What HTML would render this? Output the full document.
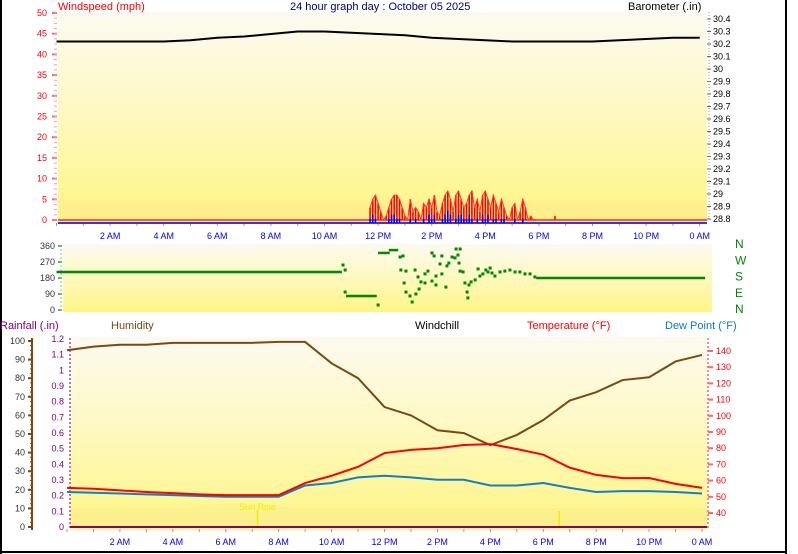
<!DOCTYPE html>
<html><head><meta charset="utf-8"><style>
html,body{margin:0;padding:0;background:#fff;}
svg{display:block;font-family:"Liberation Sans",sans-serif;}
</style></head><body>
<svg id="c" width="798" height="554" viewBox="0 0 798 554">
<defs>
<linearGradient id="bg" x1="0" y1="0" x2="0" y2="1">
<stop offset="0" stop-color="#fcfaf0"/><stop offset="0.45" stop-color="#fef9c4"/><stop offset="1" stop-color="#fff584"/>
</linearGradient>
</defs>
<rect x="0" y="0" width="2" height="554" fill="#000"/>
<rect x="785" y="0" width="2" height="554" fill="#000"/>
<rect x="0" y="551" width="787" height="2" fill="#000"/>
<rect x="58" y="12" width="649" height="211" fill="url(#bg)"/>
<rect x="58" y="200" width="649" height="22" fill="#fbe98c" opacity="0.5"/>
<rect x="63" y="244" width="649" height="68" fill="url(#bg)"/>
<rect x="70" y="337" width="637" height="193" fill="url(#bg)"/>
<rect x="70" y="508" width="637" height="20" fill="#fbe98c" opacity="0.5"/>
<text x="58" y="10" font-size="11" fill="#f00">Windspeed (mph)</text>
<text x="290" y="10" font-size="11" fill="#000080">24 hour graph day : October 05 2025</text>
<text x="628" y="10" font-size="11" fill="#000">Barometer (.in)</text>
<text x="0" y="329" font-size="11" fill="#800080">Rainfall (.in)</text>
<text x="111" y="329" font-size="11" fill="#7a4a10">Humidity</text>
<text x="415" y="329" font-size="11" fill="#000">Windchill</text>
<text x="527" y="329" font-size="11" fill="#f00">Temperature (°F)</text>
<text x="665" y="329" font-size="11" fill="#0a7ac8">Dew Point (°F)</text>
<g id="g" font-size="9"></g>
</svg>
<script>
// ---- data ----
const baroHours=[0,1,2,3,4,5,6,7,8,9,10,11,12,13,14,15,16,17,18,19,20,21,22,23,24];
const baroValues=[30.22,30.22,30.22,30.22,30.22,30.23,30.25,30.26,30.28,30.30,30.30,30.29,30.28,30.27,30.25,30.24,30.23,30.22,30.22,30.22,30.22,30.23,30.24,30.25,30.25];
const windStart=11.7, windStep=0.1;
const gustValues=[3,5,6,4,2,0,1,3,5,6,6,5,3,1,0,5,2,3,2,0,4,3,5,3,6,2,1,4,6,7,5,2,6,7,5,3,4,6,7,3,5,2,6,7,5,3,6,4,2,5,3,1,0,3,4,0,2,5,3,0,1,0,0];
const avgValues=[1,2,1,0,0,0,0,1,2,2,1,1,0,0,0,1,0,1,0,0,1,0,2,1,2,0,0,1,2,3,2,0,1,2,2,1,1,2,1,0,1,0,2,1,2,0,1,1,0,1,1,0,0,0,1,0,0,1,0,0,0,0,0];
const lateGustHour=18.6, lateGustValue=1;
const dirSegStart=[0,10.8,12.0,12.4,17.9];
const dirSegEnd=[10.65,11.95,12.43,12.75,24.2];
const dirSegValue=[214,79,321,337,180];
const dirPtHours=[10.69,10.77,10.77,12.0,12.93,12.82,12.85,13.04,12.97,13.04,13.19,13.27,13.41,13.53,13.38,13.49,13.60,13.75,13.75,13.86,14.01,14.01,14.09,14.16,14.16,14.31,14.38,14.38,14.53,14.57,14.64,14.76,14.87,14.91,14.98,15.06,15.02,15.06,15.17,15.24,15.35,15.32,15.39,15.47,15.62,15.73,15.80,15.91,16.02,16.10,16.18,16.25,16.36,16.55,16.73,16.92,17.11,17.29,17.48,17.67,17.85];
const dirPtValues=[253,225,101,28,304,298,225,219,152,101,79,45,90,118,225,186,158,203,152,219,163,321,304,191,141,259,203,304,129,248,264,298,293,343,309,343,264,219,214,152,68,101,141,158,169,231,191,203,225,214,236,208,191,214,219,225,214,214,203,203,186];
const hourTicks=[0,1,2,3,4,5,6,7,8,9,10,11,12,13,14,15,16,17,18,19,20,21,22,23,24];
const tempValues=[55.5,55,54,53,52.3,51.5,51,51,51,58.5,63,68.5,77,79,80,82,82.5,79.5,76,68,63.5,61.5,61.6,58,55.5];
const dewValues=[53,52.5,52,51.5,51,50.5,50,50,50,57,58.5,62,63,62,60.5,60.5,57,57,58.5,55.5,53,53.5,53.5,53,52];
const humidityValues=[95,97,98,98,99,99,99,99,99.5,99.5,88,80,64.5,60,52,50.5,44,49.5,57.5,68,72.5,79,80.5,89,92.5];
const xTickLabels=["2 AM","4 AM","6 AM","8 AM","10 AM","12 PM","2 PM","4 PM","6 PM","8 PM","10 PM","0 AM"];
const xTickHours=[2,4,6,8,10,12,14,16,18,20,22,24];
const windTicks=[0,5,10,15,20,25,30,35,40,45,50];
const baroTicks=[28.8,28.9,29,29.1,29.2,29.3,29.4,29.5,29.6,29.7,29.8,29.9,30,30.1,30.2,30.3,30.4];
const dirTicks=[0,90,180,270,360];
const humTicks=[0,10,20,30,40,50,60,70,80,90,100];
const rainTicks=[0,0.1,0.2,0.3,0.4,0.5,0.6,0.7,0.8,0.9,1,1.1,1.2];
const tempTicks=[40,50,60,70,80,90,100,110,120,130,140];
const compassLabels=["N","W","S","E","N"];
const sunRiseHour=7.2, sunSetHour=18.6;

// ---- axes ----
const xT=h=>56.5+26.8*h, yW=m=>220-4.14*m, yB=p=>219-(p-28.8)*125;
const yD=d=>310-d/5.625;
const xB=h=>67+26.46*h, yH=v=>527-1.86*v, yR=r=>527-156.7*r, yT=t=>513-(t-40)*1.62;

const NS="http://www.w3.org/2000/svg", g=document.getElementById('g');
function mk(tag,attrs,name,text){const e=document.createElementNS(NS,tag);for(const k in attrs)e.setAttribute(k,attrs[k]);


if(text!==undefined)e.textContent=text;g.appendChild(e);return e;}
const fmt=v=>String(+v.toFixed(1));

// top axes
windTicks.forEach(v=>{mk('text',{x:47,y:yW(v)+3,'text-anchor':'end',fill:'#f00'},'windspeed-tick-label',String(v));
mk('line',{x1:52,x2:57,y1:yW(v),y2:yW(v),stroke:'#f66','stroke-width':2},'windspeed-tick');});
for(let v=0;v<=50;v+=1.25)mk('line',{x1:54,x2:57,y1:yW(v),y2:yW(v),stroke:'#f99','stroke-width':1},'windspeed-minor-tick');
baroTicks.forEach(v=>{mk('text',{x:713,y:yB(v)+3,fill:'#000'},'barometer-tick-label',fmt(v));
mk('line',{x1:707,x2:711,y1:yB(v),y2:yB(v),stroke:'#666'},'barometer-tick');});
mk('line',{x1:709,x2:709,y1:12,y2:222,stroke:'#999','stroke-dasharray':'1,2'},'barometer-axis');
xTickHours.forEach((h,i)=>{mk('text',{x:xT(h),y:239,'text-anchor':'middle',fill:'#00f'},'top-x-tick-label',xTickLabels[i]);
mk('text',{x:xB(h),y:545,'text-anchor':'middle',fill:'#00f'},'bottom-x-tick-label',xTickLabels[i]);});
hourTicks.forEach(h=>{mk('line',{x1:xT(h),x2:xT(h),y1:223,y2:226,stroke:'#999'},'top-x-tick');
mk('line',{x1:xB(h),x2:xB(h),y1:529,y2:532,stroke:'#999'},'bottom-x-tick');});

// barometer line
mk('polyline',{points:baroHours.map((h,i)=>xT(h)+','+yB(baroValues[i])).join(' '),fill:'none',stroke:'#000','stroke-width':2},'barometer-line');
// wind baselines
mk('line',{x1:58,x2:707,y1:yW(0),y2:yW(0),stroke:'#f55','stroke-width':2},'gust-baseline');
mk('line',{x1:58,x2:707,y1:223,y2:223,stroke:'#33f','stroke-width':2},'avg-baseline');
// gusts as spikes
gustValues.forEach((v,i)=>{ if(v>0) mk('line',{x1:xT(windStart+i*windStep),x2:xT(windStart+i*windStep),y1:yW(0),y2:yW(v),stroke:'#f00','stroke-width':1.6},'wind-gust-bar');});
let gp=[];gustValues.forEach((v,i)=>gp.push(xT(windStart+i*windStep)+','+yW(v)));
mk('polyline',{points:gp.join(' '),fill:'none',stroke:'#f33','stroke-width':1},'wind-gust-series');
mk('line',{x1:xT(lateGustHour),x2:xT(lateGustHour),y1:yW(0),y2:yW(lateGustValue),stroke:'#f00','stroke-width':1.5},'late-gust');
avgValues.forEach((v,i)=>{ if(v>0) mk('line',{x1:xT(windStart+i*windStep),x2:xT(windStart+i*windStep),y1:223,y2:223-4.14*v,stroke:'#00f','stroke-width':1.6},'wind-average-bar');});

// wind direction
dirTicks.forEach(v=>{mk('text',{x:55,y:yD(v)+3,'text-anchor':'end',fill:'#333'},'direction-tick-label',String(v));
mk('line',{x1:58,x2:62,y1:yD(v),y2:yD(v),stroke:'#6a6','stroke-width':2},'direction-tick');});
for(let v=0;v<=360;v+=22.5)mk('line',{x1:60,x2:62,y1:yD(v),y2:yD(v),stroke:'#8c8'},'direction-minor-tick');
compassLabels.forEach((c,i)=>mk('text',{x:735,y:248+i*16.3,fill:'#080','font-size':12},'compass-label',c));
dirSegValue.forEach((v,i)=>mk('line',{x1:xT(dirSegStart[i]),x2:xT(dirSegEnd[i]),y1:yD(v),y2:yD(v),stroke:'#080','stroke-width':2.5},'direction-segment'));
dirPtHours.forEach((h,i)=>mk('rect',{x:xT(h)-1.5,y:yD(dirPtValues[i])-1.5,width:3,height:3,fill:'#080'},'direction-point'));

// bottom axes
mk('line',{x1:32,x2:32,y1:338,y2:530,stroke:'#7a4a10','stroke-width':2},'humidity-axis');
humTicks.forEach(v=>{mk('text',{x:25,y:yH(v)+3,'text-anchor':'end',fill:'#333'},'humidity-tick-label',String(v));
mk('line',{x1:28,x2:32,y1:yH(v),y2:yH(v),stroke:'#7a4a10','stroke-width':2},'humidity-tick');});
for(let v=0;v<=100;v+=2.5)mk('line',{x1:30,x2:33,y1:yH(v),y2:yH(v),stroke:'#7a4a10'},'humidity-minor-tick');
mk('line',{x1:70,x2:70,y1:338,y2:530,stroke:'#b7b','stroke-dasharray':'2,2','stroke-width':2},'rainfall-axis');
rainTicks.forEach(v=>mk('text',{x:64,y:yR(v)+3,'text-anchor':'end',fill:'#800080'},'rainfall-tick-label',fmt(v)));
mk('line',{x1:708,x2:708,y1:338,y2:530,stroke:'#f88','stroke-dasharray':'2,2','stroke-width':2},'temperature-axis');
tempTicks.forEach(v=>{mk('text',{x:716,y:yT(v)+3,fill:'#f00'},'temperature-tick-label',String(v));
mk('line',{x1:708,x2:713,y1:yT(v),y2:yT(v),stroke:'#f66','stroke-width':2},'temperature-tick');});

// sun markers
mk('line',{x1:xB(sunRiseHour),x2:xB(sunRiseHour),y1:510,y2:528,stroke:'#ee0','stroke-width':1.5},'sunrise-marker');
mk('text',{x:xB(sunRiseHour),y:510,'text-anchor':'middle',fill:'#ee0'},'sunrise-label','Sun Rise');
mk('line',{x1:xB(sunSetHour),x2:xB(sunSetHour),y1:511,y2:528,stroke:'#ee0','stroke-width':1.5},'sunset-marker');
// rainfall
mk('line',{x1:70,x2:707,y1:yR(0),y2:yR(0),stroke:'#800080','stroke-width':2},'rainfall-line');
// series
mk('polyline',{points:hourTicks.map((h,i)=>xB(h)+','+yH(humidityValues[i])).join(' '),fill:'none',stroke:'#7a4a10','stroke-width':2},'humidity-line');
mk('polyline',{points:hourTicks.map((h,i)=>xB(h)+','+yT(dewValues[i])).join(' '),fill:'none',stroke:'#1080c8','stroke-width':2},'dew-point-line');
mk('polyline',{points:hourTicks.map((h,i)=>xB(h)+','+yT(tempValues[i])).join(' '),fill:'none',stroke:'#f00','stroke-width':2},'temperature-line');
</script>
</body></html>
